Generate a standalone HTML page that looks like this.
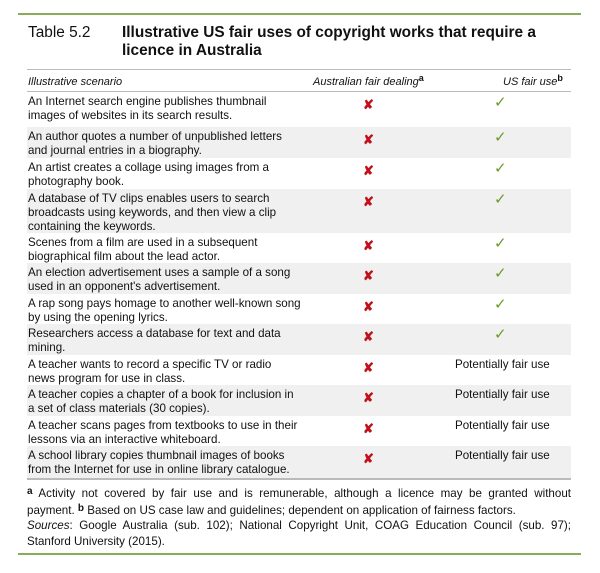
<!DOCTYPE html>
<html><head><style>
body{margin:0;width:600px;height:573px;background:#fff;font-family:"Liberation Sans",Arial,sans-serif;color:#111;position:relative;overflow:hidden}
.g{position:absolute;left:18px;width:563px;height:2px;background:#8aab5a}
.t{position:absolute;font-size:15.4px}
.hl{position:absolute;left:27px;width:544px;height:1px;background:#bbb}
.row{position:absolute;left:27px;width:544px;font-size:11.6px;line-height:14px}
.row.s{background:#f0f0f0}
.row .d{position:absolute;left:1px;top:3px;white-space:nowrap}
.x{position:absolute;left:336px;top:6px;color:#c0121a;font-weight:bold;font-size:13px}
.c{position:absolute;left:467px;top:4px;color:#6a9a2a;font-size:15px}
.p{position:absolute;left:428px;top:3px}
.f{position:absolute;left:27px;width:544px;font-size:11.6px;line-height:15px}
.j{display:block;text-align:justify;text-align-last:justify}
.h{position:absolute;top:0}
</style></head><body>
<div class="g" style="top:13px"></div>
<div class="t" style="left:28px;top:24px">Table 5.2</div>
<div class="t" style="left:122px;top:24px;font-weight:bold;line-height:18px">Illustrative US fair uses of copyright works that require a<br>licence in Australia</div>
<div class="hl" style="top:69px"></div>
<div class="row" style="top:74px;height:16px;font-style:italic;font-size:11px"><span class="h" style="left:1px;top:1px">Illustrative scenario</span><span class="h" style="left:286px;top:1px">Australian fair dealing<b style="font-style:normal;font-size:9px;position:relative;top:-4px">a</b></span><span class="h" style="left:476px;top:1px">US fair use<b style="font-style:normal;font-size:9px;position:relative;top:-4px">b</b></span></div>
<div class="hl" style="top:91px"></div>

<div class="row" style="top:92px;height:35px"><div class="d">An Internet search engine publishes thumbnail<br>images of websites in its search results.</div><span class="x">✘</span><span class="c">✓</span></div>
<div class="row s" style="top:127px;height:31px"><div class="d">An author quotes a number of unpublished letters<br>and journal entries in a biography.</div><span class="x">✘</span><span class="c">✓</span></div>
<div class="row" style="top:158px;height:31px"><div class="d">An artist creates a collage using images from a<br>photography book.</div><span class="x">✘</span><span class="c">✓</span></div>
<div class="row s" style="top:189px;height:44px"><div class="d">A database of TV clips enables users to search<br>broadcasts using keywords, and then view a clip<br>containing the keywords.</div><span class="x">✘</span><span class="c">✓</span></div>
<div class="row" style="top:233px;height:30px"><div class="d">Scenes from a film are used in a subsequent<br>biographical film about the lead actor.</div><span class="x">✘</span><span class="c">✓</span></div>
<div class="row s" style="top:263px;height:31px"><div class="d">An election advertisement uses a sample of a song<br>used in an opponent's advertisement.</div><span class="x">✘</span><span class="c">✓</span></div>
<div class="row" style="top:294px;height:30px"><div class="d">A rap song pays homage to another well-known song<br>by using the opening lyrics.</div><span class="x">✘</span><span class="c">✓</span></div>
<div class="row s" style="top:324px;height:31px"><div class="d">Researchers access a database for text and data<br>mining.</div><span class="x">✘</span><span class="c">✓</span></div>
<div class="row" style="top:355px;height:30px"><div class="d">A teacher wants to record a specific TV or radio<br>news program for use in class.</div><span class="x">✘</span><span class="p">Potentially fair use</span></div>
<div class="row s" style="top:385px;height:31px"><div class="d">A teacher copies a chapter of a book for inclusion in<br>a set of class materials (30 copies).</div><span class="x">✘</span><span class="p">Potentially fair use</span></div>
<div class="row" style="top:416px;height:30px"><div class="d">A teacher scans pages from textbooks to use in their<br>lessons via an interactive whiteboard.</div><span class="x">✘</span><span class="p">Potentially fair use</span></div>
<div class="row s" style="top:446px;height:32px"><div class="d">A school library copies thumbnail images of books<br>from the Internet for use in online library catalogue.</div><span class="x">✘</span><span class="p">Potentially fair use</span></div>
<div class="hl" style="top:478px;height:2px"></div>

<div class="f" style="top:486px;line-height:16px"><span class="j"><b style="font-size:10px;position:relative;top:-3px">a</b> Activity not covered by fair use and is remunerable, although a licence may be granted without</span>payment. <b style="font-size:10px;position:relative;top:-3px">b</b> Based on US case law and guidelines; dependent on application of fairness factors.</div>
<div class="f" style="top:518px;line-height:16px"><span class="j"><i>Sources</i>: Google Australia (sub. 102); National Copyright Unit, COAG Education Council (sub. 97);</span>Stanford University (2015).</div>
<div class="g" style="top:553px"></div>
</body></html>
